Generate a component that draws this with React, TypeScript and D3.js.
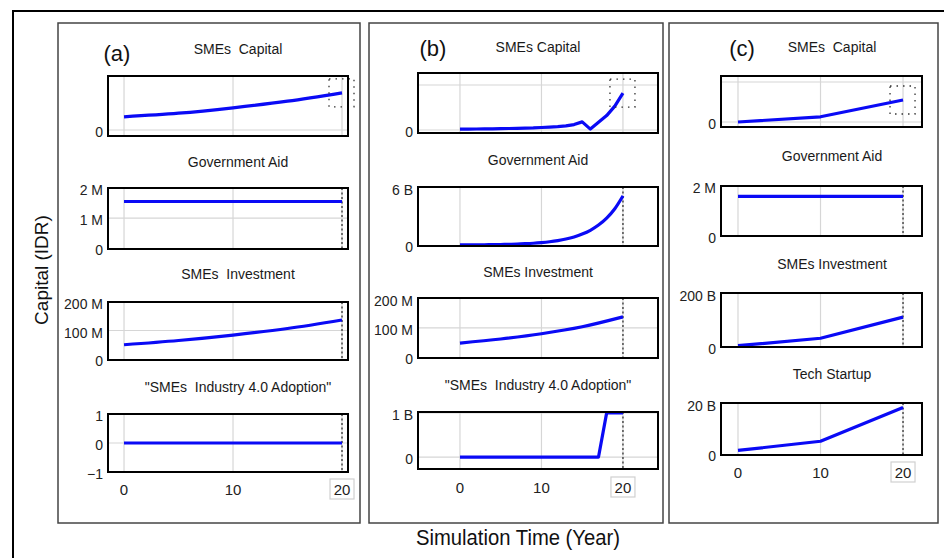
import React from "react";
import * as d3 from "d3";

// simulation years used by each run
const years5 = [0, 5, 10, 15, 20];
const years1 = [0, 1, 2, 3, 4, 5, 6, 7, 8, 9, 10, 11, 12, 13, 14, 15, 16, 17, 18, 19, 20];
const years10 = [0, 10, 20];

// (a) scenario
const capitalA = [0.22, 0.28, 0.37, 0.48, 0.62];
const aidA = [1.55e6, 1.55e6, 1.55e6, 1.55e6, 1.55e6];
const investA = [50e6, 65e6, 84e6, 107e6, 137e6];
const adoptionA = [0, 0, 0, 0, 0];

// (b) scenario
const capitalB = [0.02, 0.02, 0.022, 0.024, 0.026, 0.03, 0.033, 0.037, 0.04, 0.045, 0.055, 0.065, 0.075, 0.09, 0.12, 0.18, 0.02, 0.17, 0.32, 0.53, 0.82];
const aidB = [0.013e9, 0.017e9, 0.023e9, 0.031e9, 0.042e9, 0.057e9, 0.077e9, 0.1e9, 0.14e9, 0.19e9, 0.26e9, 0.35e9, 0.47e9, 0.63e9, 0.85e9, 1.15e9, 1.55e9, 2.1e9, 2.83e9, 3.82e9, 5.16e9];
const investB = [48e6, 62e6, 80e6, 104e6, 138e6];
const adoptionB = [0, 0, 0, 0, 0, 0, 0, 0, 0, 0, 0, 0, 0, 0, 0, 0, 0, 0, 1e9, 1e9, 1e9];

// (c) scenario
const capitalC = [0, 0.13, 0.55];
const aidC = [1.6e6, 1.6e6, 1.6e6];
const investC = [5e9, 33e9, 113e9];
const startupC = [1.6e9, 5.2e9, 18.4e9];

const xTicks = [0, 10, 20];

const fmt = (v: number) => {
  if (v === 0) return "0";
  if (v < 0) return `\u2212${-v}`;
  if (v >= 1e9) return `${v / 1e9} B`;
  if (v >= 1e6) return `${v / 1e6} M`;
  return `${v}`;
};

const FONT = "'Liberation Sans', Arial, sans-serif";
const BLUE = "#0a0af5";

const panels = [
  {
    label: "(a)", labelX: 117, labelY: 53, frame: [58, 23, 302, 500],
    plotX: [108, 348], xDomain: [-1.47, 20.55], titleX: 238, tickY: 489,
    plots: [
      { title: "SMEs  Capital", titleY: 49, y: [76, 136], yDomain: [-0.1, 0.9], ticks: [0], grid: [0], years: years5, values: capitalA, end: "box", curve: d3.curveMonotoneX },
      { title: "Government Aid", titleY: 162, y: [188, 249], yDomain: [-0.03e6, 2e6], ticks: [0, 1e6, 2e6], grid: [1e6], years: years5, values: aidA, end: "line", curve: d3.curveLinear },
      { title: "SMEs  Investment", titleY: 274, y: [302, 360], yDomain: [-3.5e6, 200e6], ticks: [0, 100e6, 200e6], grid: [100e6], years: years5, values: investA, end: "line", curve: d3.curveMonotoneX },
      { title: "\"SMEs  Industry 4.0 Adoption\"", titleY: 387, y: [414, 472], yDomain: [-1, 1], ticks: [-1, 0, 1], grid: [0], years: years5, values: adoptionA, end: "line", curve: d3.curveLinear },
    ],
  },
  {
    label: "(b)", labelX: 433, labelY: 48, frame: [369, 23, 294, 500],
    plotX: [418, 658], xDomain: [-5.15, 24.3], titleX: 538, tickY: 487,
    plots: [
      { title: "SMEs Capital", titleY: 47, y: [73, 133], yDomain: [-0.067, 1.267], ticks: [0], grid: [0, 1], years: years1, values: capitalB, end: "box", curve: d3.curveLinear },
      { title: "Government Aid", titleY: 160, y: [187, 246], yDomain: [-0.1e9, 6.1e9], ticks: [0, 6e9], grid: [], years: years1, values: aidB, end: "line", curve: d3.curveMonotoneX },
      { title: "SMEs Investment", titleY: 272, y: [298, 358], yDomain: [-3.4e6, 203e6], ticks: [0, 100e6, 200e6], grid: [100e6], years: years5, values: investB, end: "line", curve: d3.curveMonotoneX },
      { title: "\"SMEs  Industry 4.0 Adoption\"", titleY: 385, y: [412, 469], yDomain: [-0.27e9, 1.02e9], ticks: [0, 1e9], grid: [0, 1e9], years: years1, values: adoptionB, end: "line", curve: d3.curveLinear },
    ],
  },
  {
    label: "(c)", labelX: 742, labelY: 48, frame: [669, 23, 269, 500],
    plotX: [721, 922], xDomain: [-2.06, 22.3], titleX: 832, tickY: 472,
    plots: [
      { title: "SMEs  Capital", titleY: 47, y: [76, 127], yDomain: [-0.125, 1.15], ticks: [0], grid: [0, 1], years: years10, values: capitalC, end: "box", curve: d3.curveLinear },
      { title: "Government Aid", titleY: 156, y: [186, 236], yDomain: [0, 2.02e6], ticks: [0, 2e6], grid: [], years: years10, values: aidC, end: "line", curve: d3.curveLinear },
      { title: "SMEs Investment", titleY: 264, y: [293, 347], yDomain: [0, 204e9], ticks: [0, 200e9], grid: [], years: years10, values: investC, end: "line", curve: d3.curveLinear },
      { title: "Tech Startup", titleY: 374, y: [403, 455], yDomain: [-0.2e9, 20.2e9], ticks: [0, 20e9], grid: [], years: years10, values: startupC, end: "line", curve: d3.curveLinear },
    ],
  },
];

export default function App() {
  return (
    <svg width={944} height={558} style={{ position: "absolute", left: 0, top: 0, background: "#fff" }} fontFamily={FONT}>
      <rect x={13} y={11} width={960} height={600} fill="none" stroke="#000" strokeWidth={2} />
      {panels.map((p) => {
        const x = d3.scaleLinear().domain(p.xDomain).range(p.plotX);
        return (
          <g key={p.label}>
            <rect x={p.frame[0]} y={p.frame[1]} width={p.frame[2]} height={p.frame[3]} fill="none" stroke="#444" strokeWidth={1.5} />
            <text x={p.labelX} y={p.labelY} fontSize={22} textAnchor="middle" dominantBaseline="central" fill="#111">{p.label}</text>
            {p.plots.map((q, i) => {
              const y = d3.scaleLinear().domain(q.yDomain).range([q.y[1], q.y[0]]);
              const pts = q.years.map((t, k) => [t, q.values[k]] as [number, number]);
              const line = d3.line<[number, number]>().x((d) => x(d[0])).y((d) => y(d[1])).curve(q.curve);
              const ex = x(20);
              const ey = y(q.values[q.values.length - 1]);
              return (
                <g key={i}>
                  <text x={p.titleX} y={q.titleY} fontSize={14} textAnchor="middle" dominantBaseline="central" fill="#1a1a1a" style={{ whiteSpace: "pre" }}>{q.title}</text>
                  {xTicks.map((t) => (
                    <line key={"v" + t} x1={x(t)} x2={x(t)} y1={q.y[0]} y2={q.y[1]} stroke="#d6d6d6" strokeWidth={1.2} />
                  ))}
                  {q.grid.map((g) => (
                    <line key={"h" + g} x1={p.plotX[0]} x2={p.plotX[1]} y1={y(g)} y2={y(g)} stroke="#d6d6d6" strokeWidth={1.2} />
                  ))}
                  {q.end === "line" && (
                    <line x1={ex} x2={ex} y1={q.y[0]} y2={q.y[1]} stroke="#333" strokeWidth={1.3} strokeDasharray="2,2.5" />
                  )}
                  <path d={line(pts) || ""} fill="none" stroke={BLUE} strokeWidth={3.2} strokeLinejoin="round" />
                  {q.end === "box" && (
                    <rect x={ex - 13} y={ey - 14} width={25} height={28} fill="none" stroke="#333" strokeWidth={1.3} strokeDasharray="1.5,5" />
                  )}
                  <rect x={p.plotX[0]} y={q.y[0]} width={p.plotX[1] - p.plotX[0]} height={q.y[1] - q.y[0]} fill="none" stroke="#000" strokeWidth={2} />
                  {q.ticks.map((t) => (
                    <text key={"t" + t} x={p.plotX[0] - 5} y={y(t) + 2} fontSize={14} textAnchor="end" dominantBaseline="central" fill="#222">{fmt(t)}</text>
                  ))}
                </g>
              );
            })}
            {xTicks.map((t) => (
              <g key={"x" + t}>
                {t === 20 && (
                  <rect x={x(t) - 12} y={p.tickY - 10} width={24} height={20} fill="none" stroke="#d0d0d0" strokeWidth={1.2} />
                )}
                <text x={x(t)} y={p.tickY} fontSize={15} textAnchor="middle" dominantBaseline="central" fill="#222">{t}</text>
              </g>
            ))}
          </g>
        );
      })}
      <text transform="translate(41,270) rotate(-90)" fontSize={19} textAnchor="middle" dominantBaseline="central" fill="#111">Capital (IDR)</text>
      <text x={518} y={545} fontSize={22} textAnchor="middle" fill="#111" textLength={204} lengthAdjust="spacingAndGlyphs">Simulation Time (Year)</text>
    </svg>
  );
}
